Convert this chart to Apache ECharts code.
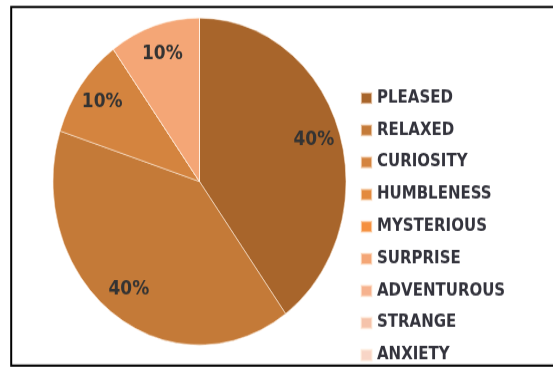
<!DOCTYPE html>
<html>
<head>
<meta charset="utf-8">
<script src="https://cdn.jsdelivr.net/npm/echarts@6/dist/echarts.min.js"></script>
<style>
  html, body { margin: 0; padding: 0; background: #fff; width: 553px; height: 367px; }
  #chart { width: 553px; height: 329px; transform: scaleY(1.1155); transform-origin: 0 0; }
</style>
</head>
<body>
<div id="chart"></div>
<script>
// Emotions reported, as percentage shares
const categories = ['PLEASED', 'RELAXED', 'CURIOSITY', 'HUMBLENESS', 'MYSTERIOUS',
                    'SURPRISE', 'ADVENTUROUS', 'STRANGE', 'ANXIETY'];
const shares = [40, 40, 10, 0, 0, 10, 0, 0, 0];

// One warm tone per category, darkest first
const palette = ['#A8652B', '#C47A38', '#D4843F', '#E38A3E', '#F5903E',
                 '#F4A676', '#F6B28E', '#F5C3AA', '#F8D5C6'];

const slices = categories.map((name, i) => ({ name, value: shares[i] }));

const chart = echarts.init(document.getElementById('chart'), null, { renderer: 'canvas' });

const center = [199.5, 162.7];
const outer = 146.5;

chart.setOption({
  animation: false,
  color: palette,
  legend: {
    orient: 'vertical',
    left: 360,
    top: 80,
    height: 290,
    padding: 0,
    icon: 'rect',
    itemWidth: 11,
    itemHeight: 10,
    itemGap: 12.8,
    selectedMode: false,
    data: categories,
    textStyle: {
      fontFamily: 'DejaVu Sans',
      fontWeight: 'bold',
      fontSize: 15,
      lineHeight: 16,
      color: '#33333c'
    }
  },
  graphic: [{
    type: 'rect',
    silent: true,
    shape: { x: 11.2, y: 6.3, width: 600, height: 321.4 },
    style: { fill: 'none', stroke: '#000', lineWidth: 2 }
  }],
  series: [
    {
      // the pie itself
      type: 'pie',
      center: center,
      radius: outer,
      startAngle: 90,
      clockwise: true,
      silent: true,
      label: { show: false },
      labelLine: { show: false },
      itemStyle: { borderColor: 'rgba(255,240,225,0.55)', borderWidth: 1 },
      data: slices
    },
    {
      // transparent ring that carries the percentage labels further out
      type: 'pie',
      center: center,
      radius: [88, outer],
      startAngle: 90,
      clockwise: true,
      silent: true,
      itemStyle: { color: 'rgba(0,0,0,0)' },
      label: {
        show: true,
        position: 'inside',
        fontFamily: 'DejaVu Sans',
        fontWeight: 'bold',
        fontSize: 17,
        color: '#333',
        formatter: p => (p.value ? p.value + '%' : '')
      },
      labelLine: { show: false },
      data: slices
    }
  ]
});
</script>
</body>
</html>
